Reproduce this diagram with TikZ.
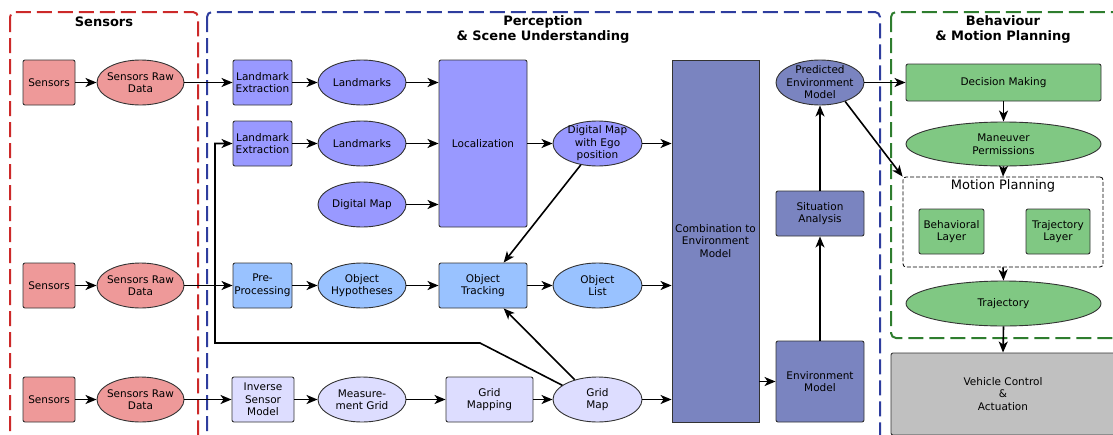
\documentclass[tikz,border=0pt]{standalone}
\usepackage{fontspec}
\setmainfont{DejaVu Sans}
\usetikzlibrary{shapes.geometric,arrows.meta,positioning}

\definecolor{sensred}{RGB}{238,153,153}
\definecolor{lmblue}{RGB}{153,153,255}
\definecolor{objblue}{RGB}{153,194,255}
\definecolor{gridblue}{RGB}{221,221,255}
\definecolor{envblue}{RGB}{122,132,192}
\definecolor{plangreen}{RGB}{128,200,131}
\definecolor{ctrlgray}{RGB}{192,192,192}
\definecolor{framered}{RGB}{204,41,41}
\definecolor{frameblue}{RGB}{46,61,158}
\definecolor{framegreen}{RGB}{46,125,46}

\begin{document}
\begin{tikzpicture}
[x=1pt,y=-1pt,font=\fontsize{10.5}{12.5}\selectfont]
\tikzset{
	box/.style = {rectangle, rounded corners=2pt, draw=black!80, line width=0.9pt, align=center, inner sep=1pt, minimum width=59pt, minimum height=45pt},
	oval/.style = {ellipse, draw=black!80, line width=0.9pt, align=center, inner xsep=-4pt, inner ysep=-6pt, minimum width=88pt, minimum height=45pt},
	frame/.style = {line width=2pt, dash pattern=on 15pt off 6pt, rounded corners=5pt},
	title/.style = {font=\fontsize{13}{15}\selectfont\bfseries, align=center},
	conn/.style = {-{Stealth[length=11pt,width=9pt,inset=3pt]}, line width=1.6pt}
}
\clip (0,0) rectangle (1113,434);

% frames and titles
\draw[frame, draw=framered] (10,12) rectangle (198,460);
\draw[frame, draw=frameblue] (207,12) rectangle (880,460);
\draw[frame, draw=framegreen] (891,12) rectangle (1140,338);
\node[title] (tsens) at (104,22) {Sensors};
\node[title] (tperc) at (543,29.5) {Perception\\\& Scene Understanding};
\node[title] (tplan) at (1003,29.5) {Behaviour\\\& Motion Planning};

% sensors
\node[box, fill=sensred, minimum width=52pt] (s1) at (49,82.5) {Sensors};
\node[oval, fill=sensred, minimum width=87pt] (r1) at (140.5,82.5) {Sensors Raw\\Data};
\node[box, fill=sensred, minimum width=52pt] (s2) at (49,285.5) {Sensors};
\node[oval, fill=sensred, minimum width=87pt] (r2) at (140.5,285.5) {Sensors Raw\\Data};
\node[box, fill=sensred, minimum width=52pt] (s3) at (49,399.5) {Sensors};
\node[oval, fill=sensred, minimum width=87pt] (r3) at (140.5,399.5) {Sensors Raw\\Data};

% localization
\node[box, fill=lmblue] (le1) at (262.5,82.5) {Landmark\\Extraction};
\node[oval, fill=lmblue] (lm1) at (362,82.5) {Landmarks};
\node[box, fill=lmblue] (le2) at (262.5,143.5) {Landmark\\Extraction};
\node[oval, fill=lmblue] (lm2) at (362,143.5) {Landmarks};
\node[oval, fill=lmblue] (dm) at (362,204.5) {Digital Map};
\node[box, fill=lmblue, minimum width=88pt, minimum height=167pt] (loc) at (483,143.5) {Localization};
\node[oval, fill=lmblue, minimum width=89pt] (dme) at (597.5,143.5) {Digital Map\\with Ego\\position};

% objects
\node[box, fill=objblue] (pre) at (262.5,285.5) {Pre-\\Processing};
\node[oval, fill=objblue] (oh) at (362,285.5) {Object\\Hypotheses};
\node[box, fill=objblue, minimum width=88pt] (ot) at (483,285.5) {Object\\Tracking};
\node[oval, fill=objblue, minimum width=89pt] (ol) at (597.5,285.5) {Object\\List};

% grid
\node[box, fill=gridblue, minimum width=62pt] (ism) at (263,399.5) {Inverse\\Sensor\\Model};
\node[oval, fill=gridblue] (mg) at (362,399.5) {Measure-\\ment Grid};
\node[box, fill=gridblue, minimum width=87pt] (gm) at (489.5,399.5) {Grid\\Mapping};
\node[oval, fill=gridblue, minimum width=89pt] (gmap) at (597.5,399.5) {Grid\\Map};

% environment
\node[box, sharp corners, fill=envblue, minimum width=87pt, minimum height=362pt] (comb) at (715.5,241) {Combination to\\Environment\\Model};
\node[box, fill=envblue, minimum width=88pt, minimum height=81pt] (em) at (820,381.5) {Environment\\Model};
\node[box, fill=envblue, minimum width=88pt] (sa) at (820,213.5) {Situation\\Analysis};
\node[oval, fill=envblue] (pem) at (820,82.5) {Predicted\\Environment\\Model};

% planning
\node[box, fill=plangreen, minimum width=195pt, minimum height=37pt] (dec) at (1003.5,82.5) {Decision Making};
\node[oval, fill=plangreen, minimum width=195pt, minimum height=44pt] (mp) at (1003.5,144) {Maneuver\\Permissions};
\node[draw=black, line width=0.8pt, dash pattern=on 4pt off 2pt, rounded corners=3pt, minimum width=200pt, minimum height=90pt] (mplan) at (1003,222) {};
\node[font=\fontsize{13}{15}\selectfont] (mplabel) at (1003,186) {Motion Planning};
\node[box, fill=plangreen, minimum width=65pt] (bl) at (951.5,231.5) {Behavioral\\Layer};
\node[box, fill=plangreen, minimum width=64pt] (tl) at (1058,231.5) {Trajectory\\Layer};
\node[oval, fill=plangreen, minimum width=195pt] (traj) at (1003.5,303.5) {Trajectory};
\node[box, fill=ctrlgray, minimum width=224pt, minimum height=82pt] (vc) at (1003,394) {Vehicle Control\\\&\\Actuation};

\coordinate (kink) at (480,343);
\coordinate (turn) at (215,343);

% connectors
\foreach \a/\b in {s1/r1, r1/le1, le1/lm1, le2/lm2, loc/dme, s2/r2, r2/pre, pre/oh, oh/ot, ot/ol, s3/r3, r3/ism, ism/mg, mg/gm, gm/gmap, pem/dec}
	\draw[conn] (\a) -- (\b);
\foreach \a in {lm1, lm2, dm}
	\draw[conn] (\a.east) -- (\a.east -| loc.west);
\foreach \a in {dme, ol, gmap}
	\draw[conn] (\a.east) -- (\a.east -| comb.west);
\draw[conn] (em.west -| comb.east) -- (em.west);
\draw[conn] (em) -- (sa);
\draw[conn] (sa) -- (pem);
\draw[conn] (dme.232) -- (ot.48);
\draw[conn] (gmap.139) -- (ot.-48);
\draw[conn] (gmap.158) -- (kink) -- (turn) |- (le2.west);
\draw[conn] (pem.-37) -- (mplan.north west);
\draw[conn] (dec) -- (mp);
\draw[conn] (mp.south) -- (mplan.north);
\draw[conn] (mplan.south) -- (traj.north);
\draw[conn] (traj.south) -- (vc.north);
\end{tikzpicture}
\end{document}
